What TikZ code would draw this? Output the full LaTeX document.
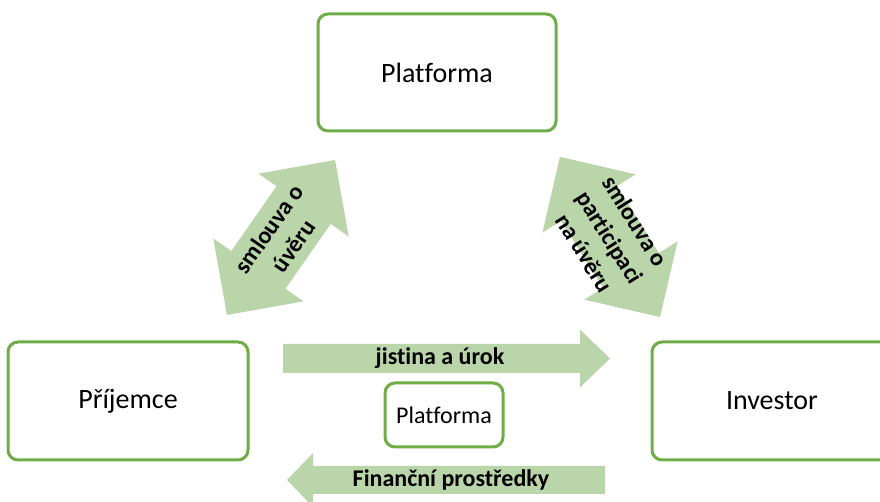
\documentclass[tikz,border=0pt]{standalone}
\usepackage{fontspec}
\setmainfont{Carlito}[Ligatures=NoCommon]
\definecolor{boxgreen}{HTML}{70AD47}
\definecolor{flowgreen}{HTML}{BBD5AB}
\tikzset{
  party/.style={draw=boxgreen,line width=1.5pt,rounded corners=5pt,fill=white,
    minimum width=120pt,minimum height=59pt,font=\fontsize{14}{17}\selectfont},
  midbox/.style={party,minimum width=59pt,minimum height=32pt,font=\fontsize{12}{14}\selectfont},
  flow/.style={fill=flowgreen},
  flowtext/.style={font=\fontsize{12}{15}\selectfont\bfseries,align=center,inner sep=0pt},
}
\begin{document}
\begin{tikzpicture}[x=0.5pt,y=0.5pt]
	\useasboundingbox (0,0) rectangle (880,502);
	% parties
	\node[party,minimum width=119pt,minimum height=58.5pt] (platforma) at (437,429.5) {Platforma};
	\node[party] (prijemce) at (128,101) {Příjemce};
	\node[party] (investor) at (772,101) {Investor};
	\node[midbox] (platformamid) at (444,87) {Platforma};
	% smlouva o uveru
	\begin{scope}[shift={(281,264.5)},rotate=55.1]
		\fill[flow] (94.5,0) -- (39.5,55) -- (39.5,33) -- (-39.5,33) -- (-39.5,55) -- (-94.5,0)
			-- (-39.5,-55) -- (-39.5,-33) -- (39.5,-33) -- (39.5,-55) -- cycle;
		\node[flowtext,rotate=55.1] (uver) at (0,0) {smlouva o\\úvěru};
	\end{scope}
	% smlouva o participaci
	\begin{scope}[shift={(610,265)},rotate=-58]
		\fill[flow] (94.5,0) -- (39.5,55) -- (39.5,33) -- (-39.5,33) -- (-39.5,55) -- (-94.5,0)
			-- (-39.5,-55) -- (-39.5,-33) -- (39.5,-33) -- (39.5,-55) -- cycle;
		\node[flowtext,rotate=-58] (participace) at (0,0) {smlouva o\\participaci\\na úvěru};
	\end{scope}
	% penezni toky
	\fill[flow] (283,158) -- (580,158) -- (580,172.5) -- (610,143.5) -- (580,114.5) -- (580,129) -- (283,129) -- cycle;
	\node[flowtext] (jistina) at (440,143.5) {jistina a úrok};
	\fill[flow] (605,36) -- (313,36) -- (313,49) -- (287,22) -- (313,-5) -- (313,8) -- (605,8) -- cycle;
	\node[flowtext] (prostredky) at (451,22) {Finanční prostředky};
\end{tikzpicture}
\end{document}
